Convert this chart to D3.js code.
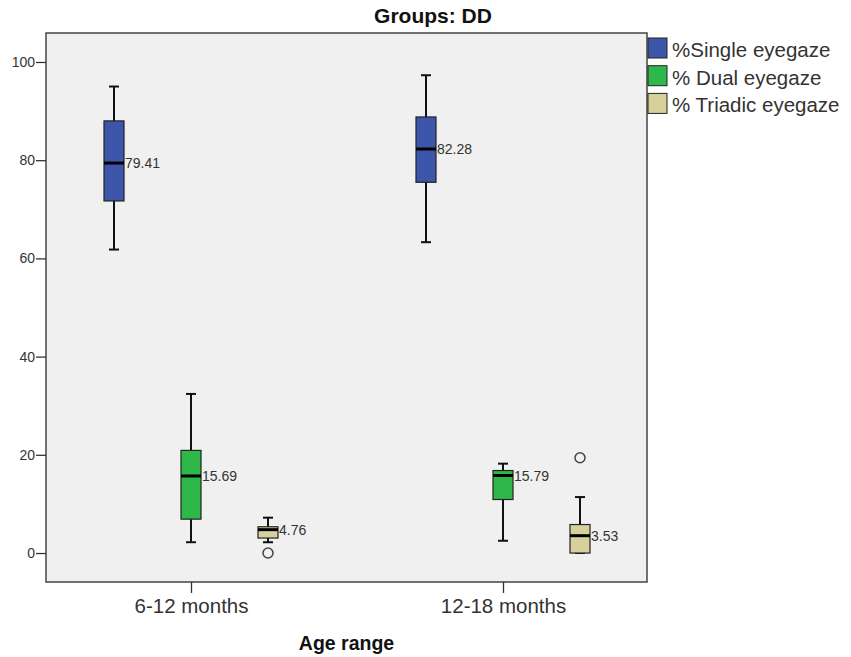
<!DOCTYPE html>
<html>
<head>
<meta charset="utf-8">
<script src="https://cdn.jsdelivr.net/npm/d3@7"></script>
<style>
  body { margin: 0; background: #fff; }
  text { font-family: "Liberation Sans", Arial, sans-serif; }
</style>
</head>
<body>
<div id="chart-area"></div>
<script>
var categories = ["6-12 months", "12-18 months"];
var series = ["%Single eyegaze", "% Dual eyegaze", "% Triadic eyegaze"];
var yTicks = [0, 20, 40, 60, 80, 100];

// box stats, [category][series]
var whiskerLow  = [[61.8, 2.2, 2.2], [63.3, 2.5, 0]];
var q1          = [[71.7, 6.9, 3.05], [75.5, 10.9, 0]];
var medians     = [[79.41, 15.69, 4.76], [82.28, 15.79, 3.53]];
var q3          = [[88.0, 20.9, 5.35], [88.8, 16.8, 5.8]];
var whiskerHigh = [[95.0, 32.4, 7.2], [97.3, 18.2, 11.4]];
var outliers    = [[[], [], [0]], [[], [], [19.4]]];

var colors = ["#3d56ab", "#2fb84a", "#d6d09a"];

var svg_width = 851;
var svg_height = 657;
// plot frame (note: "top" is taken by window.top)
var pLeft = 46, pRight = 647, pTop = 33, pBottom = 582;
var box_w = 20;
var cap_w = 10;

var rows = [];
categories.forEach((c, i) => {
    series.forEach((s, j) => {
        rows.push({
            cat: c, ser: s,
            lo: whiskerLow[i][j], q1: q1[i][j], med: medians[i][j],
            q3: q3[i][j], hi: whiskerHigh[i][j], out: outliers[i][j]
        });
    });
});

var svg = d3.select("#chart-area").append("svg")
    .attr("width", svg_width)
    .attr("height", svg_height);

var y = d3.scaleLinear()
    .domain([-5.9, 105.9])
    .range([pBottom, pTop]);

var x = d3.scalePoint()
    .domain(categories)
    .range([191, 503]);

var offset = d3.scalePoint()
    .domain(series)
    .range([-77, 77]);

var color = d3.scaleOrdinal()
    .domain(series)
    .range(colors);

// plot background
svg.append("rect")
    .attr("x", pLeft).attr("y", pTop)
    .attr("width", pRight - pLeft).attr("height", pBottom - pTop)
    .attr("fill", "#f0f0f0")
    .attr("stroke", "#444")
    .attr("stroke-width", 1.5);

// axes
var yAxis = svg.append("g")
    .attr("transform", "translate(" + pLeft + ",0)")
    .call(d3.axisLeft(y).tickValues(yTicks).tickSize(10).tickPadding(1));
yAxis.select(".domain").remove();
yAxis.selectAll("line").attr("stroke", "#333").attr("stroke-width", 1.3);
yAxis.selectAll("text").attr("font-size", 14).attr("fill", "#333")
    .style("font-family", "'Liberation Sans', Arial, sans-serif");

var xAxis = svg.append("g")
    .attr("transform", "translate(0," + pBottom + ")")
    .call(d3.axisBottom(x).tickSize(11).tickPadding(5));
xAxis.select(".domain").remove();
xAxis.selectAll("line").attr("stroke", "#333").attr("stroke-width", 1.3);
xAxis.selectAll("text").attr("font-size", 20.5).attr("fill", "#333")
    .style("font-family", "'Liberation Sans', Arial, sans-serif");

// boxes
var cx = (d) => x(d.cat) + offset(d.ser);

var g = svg.selectAll(".box")
    .data(rows)
    .enter().append("g")
    .attr("class", "box");

g.append("line")
    .attr("x1", cx).attr("x2", cx)
    .attr("y1", (d) => y(d.hi)).attr("y2", (d) => y(d.lo))
    .attr("stroke", "#111").attr("stroke-width", 2);

g.append("line")
    .attr("x1", (d) => cx(d) - cap_w / 2).attr("x2", (d) => cx(d) + cap_w / 2)
    .attr("y1", (d) => y(d.hi)).attr("y2", (d) => y(d.hi))
    .attr("stroke", "#111").attr("stroke-width", 2);

g.append("line")
    .attr("x1", (d) => cx(d) - cap_w / 2).attr("x2", (d) => cx(d) + cap_w / 2)
    .attr("y1", (d) => y(d.lo)).attr("y2", (d) => y(d.lo))
    .attr("stroke", "#111").attr("stroke-width", 2);

g.append("rect")
    .attr("x", (d) => cx(d) - box_w / 2)
    .attr("y", (d) => y(d.q3))
    .attr("width", box_w)
    .attr("height", (d) => y(d.q1) - y(d.q3))
    .attr("fill", (d) => color(d.ser))
    .attr("stroke", "#222").attr("stroke-width", 1.2);

g.append("line")
    .attr("x1", (d) => cx(d) - box_w / 2).attr("x2", (d) => cx(d) + box_w / 2)
    .attr("y1", (d) => y(d.med)).attr("y2", (d) => y(d.med))
    .attr("stroke", "#000").attr("stroke-width", 3);

g.append("text")
    .attr("x", (d) => cx(d) + box_w / 2 + 1)
    .attr("y", (d) => y(d.med))
    .attr("dy", "0.36em")
    .attr("font-size", 14)
    .attr("fill", "#333")
    .text((d) => d.med.toFixed(2));

g.selectAll("circle")
    .data((d) => d.out.map((v) => ({ v: v, d: d })))
    .enter().append("circle")
    .attr("cx", (o) => cx(o.d))
    .attr("cy", (o) => y(o.v))
    .attr("r", 5)
    .attr("fill", "none")
    .attr("stroke", "#444").attr("stroke-width", 1.5);

// legend
var legend = svg.selectAll(".legend")
    .data(series)
    .enter().append("g")
    .attr("class", "legend")
    .attr("transform", (d, i) => "translate(648," + (38 + i * 27.7) + ")");

legend.append("rect")
    .attr("width", 19).attr("height", 20)
    .attr("fill", (d) => color(d))
    .attr("stroke", "#222").attr("stroke-width", 1);

legend.append("text")
    .attr("x", 24).attr("y", 19)
    .attr("font-size", 20.5)
    .attr("fill", "#333")
    .text((d) => d);

// titles
svg.append("text")
    .attr("x", 433).attr("y", 23)
    .attr("text-anchor", "middle")
    .attr("font-size", 21).attr("font-weight", "bold")
    .attr("fill", "#111")
    .text("Groups: DD");

svg.append("text")
    .attr("x", (pLeft + pRight) / 2).attr("y", 650)
    .attr("text-anchor", "middle")
    .attr("font-size", 19.5).attr("font-weight", "bold")
    .attr("fill", "#111")
    .text("Age range");
</script>
</body>
</html>
